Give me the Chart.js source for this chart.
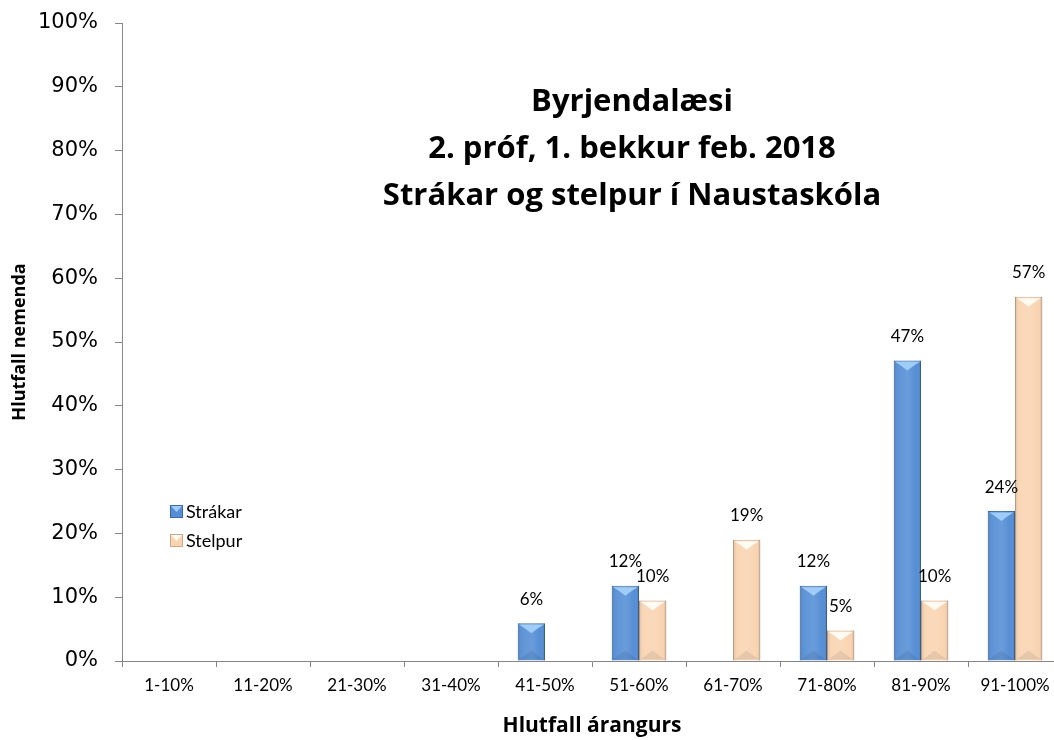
<!DOCTYPE html>
<html>
<head>
<meta charset="utf-8">
<script src="https://cdn.jsdelivr.net/npm/chart.js@4/dist/chart.umd.min.js"></script>
<style>
  html, body { margin: 0; padding: 0; overflow: hidden; background: #fff; }
  #wrap { position: absolute; left: 0; top: 0; width: 1070px; height: 740px; }
</style>
</head>
<body>
<div id="wrap"><canvas id="chart"></canvas></div>
<script>
var labels = ['1-10%', '11-20%', '21-30%', '31-40%', '41-50%', '51-60%', '61-70%', '71-80%', '81-90%', '91-100%'];
var strakar = [0, 0, 0, 0, 5.9, 11.8, 0, 11.8, 47.1, 23.5];
var stelpur = [0, 0, 0, 0, 0, 9.5, 19.0, 4.8, 9.5, 57.1];
var titleLines = ['Byrjendalæsi', '2. próf, 1. bekkur feb. 2018', 'Strákar og stelpur í Naustaskóla'];
var bevelColors = ['#9fcdf7', '#fffaf2'];

// skygging a sulum, gildi ofan a sulum, titill og thjodsaga inni i teiknisvaedinu
var extras = {
  id: 'extras',
  afterDatasetsDraw: function (chart) {
    var ctx = chart.ctx;
    ctx.save();
    chart.data.datasets.forEach(function (ds, i) {
      chart.getDatasetMeta(i).data.forEach(function (bar, j) {
        if (!ds.data[j]) return;
        var x0 = bar.x - bar.width / 2, x1 = bar.x + bar.width / 2;
        var top = bar.y, bot = bar.base, h = bot - top;
        var g = ctx.createLinearGradient(x0, 0, x1, 0);
        g.addColorStop(0, 'rgba(0,0,0,0.12)');
        g.addColorStop(0.15, 'rgba(255,255,255,0.05)');
        g.addColorStop(0.5, 'rgba(255,255,255,0.12)');
        g.addColorStop(0.85, 'rgba(255,255,255,0.0)');
        g.addColorStop(1, 'rgba(0,0,0,0.18)');
        ctx.fillStyle = g;
        ctx.fillRect(x0, top, x1 - x0, h);
        var b = Math.min(10, h / 2);
        ctx.fillStyle = bevelColors[i];
        ctx.beginPath();
        ctx.moveTo(x0 + 1.5, top + 1.5);
        ctx.lineTo(x1 - 1.5, top + 1.5);
        ctx.lineTo(x1 - 7, top + b * 0.5);
        ctx.lineTo(bar.x, top + b);
        ctx.lineTo(x0 + 7, top + b * 0.5);
        ctx.closePath();
        ctx.fill();
        ctx.fillStyle = 'rgba(0,0,0,0.08)';
        ctx.beginPath();
        ctx.moveTo(x0 + 1.5, bot - 1);
        ctx.lineTo(x1 - 1.5, bot - 1);
        ctx.lineTo(bar.x, bot - b);
        ctx.closePath();
        ctx.fill();
      });
    });

    ctx.fillStyle = '#000';
    ctx.textAlign = 'center';
    ctx.textBaseline = 'middle';
    ctx.font = '17px Lato';
    chart.data.datasets.forEach(function (ds, i) {
      chart.getDatasetMeta(i).data.forEach(function (bar, j) {
        if (!ds.data[j]) return;
        ctx.fillText(Math.round(ds.data[j]) + '%', bar.x, bar.y - 24);
      });
    });

    ctx.font = 'bold 31px "Open Sans"';
    titleLines.forEach(function (t, k) {
      ctx.fillText(t, 632, 102 + k * 47);
    });

    ctx.textAlign = 'left';
    ctx.font = '18px Lato';
    chart.data.datasets.forEach(function (ds, i) {
      var y = 511 + i * 29;
      ctx.fillStyle = ds.backgroundColor;
      ctx.fillRect(170, y - 6, 13, 13);
      ctx.fillStyle = bevelColors[i];
      ctx.beginPath();
      ctx.moveTo(171, y - 5);
      ctx.lineTo(182, y - 5);
      ctx.lineTo(176.5, y + 1);
      ctx.closePath();
      ctx.fill();
      ctx.strokeStyle = ds.borderColor;
      ctx.lineWidth = 1;
      ctx.strokeRect(170.5, y - 5.5, 12, 12);
      ctx.fillStyle = '#000';
      ctx.fillText(ds.label, 186, y + 1);
    });
    ctx.restore();
  }
};

var ctx = document.getElementById('chart').getContext('2d');
var myChart = new Chart(ctx, {
  type: 'bar',
  data: {
    labels: labels,
    datasets: [{
      label: 'Strákar',
      data: strakar,
      backgroundColor: '#558ed5',
      borderColor: '#3b6aa8',
      borderWidth: 1
    }, {
      label: 'Stelpur',
      data: stelpur,
      backgroundColor: '#f9d4b2',
      borderColor: '#cfa987',
      borderWidth: 1
    }]
  },
  plugins: [extras],
  options: {
    responsive: true,
    maintainAspectRatio: false,
    animation: false,
    categoryPercentage: 0.58,
    barPercentage: 1.0,
    layout: { padding: { top: 23, right: 8, left: 0, bottom: 0 } },
    plugins: {
      legend: { display: false },
      tooltip: { enabled: false }
    },
    scales: {
      x: {
        afterFit: function (scale) { scale.height = 79; },
        border: { color: '#868686', width: 1 },
        grid: { drawOnChartArea: false, drawTicks: true, tickLength: 6, color: '#868686', offset: true },
        ticks: { color: '#000', font: { family: 'Lato', size: 17 }, maxRotation: 0, padding: 8 },
        title: { display: true, text: 'Hlutfall árangurs', color: '#000', font: { family: 'Open Sans', size: 21, weight: 'bold' }, padding: { top: 7, bottom: 1 } }
      },
      y: {
        min: 0,
        max: 100,
        afterFit: function (scale) { scale.width = 122; },
        border: { color: '#868686', width: 1 },
        grid: { drawOnChartArea: false, drawTicks: true, tickLength: 7, color: '#868686' },
        ticks: {
          stepSize: 10,
          color: '#000',
          font: { family: 'DejaVu Sans', size: 21, lineHeight: 0.5 },
          padding: 17,
          callback: function (v) { return v + '%'; }
        },
        title: { display: true, text: 'Hlutfall nemenda', color: '#000', font: { family: 'Open Sans', size: 18, weight: 'bold' }, padding: { top: 9, bottom: 0 } }
      }
    }
  }
});
</script>
</body>
</html>
